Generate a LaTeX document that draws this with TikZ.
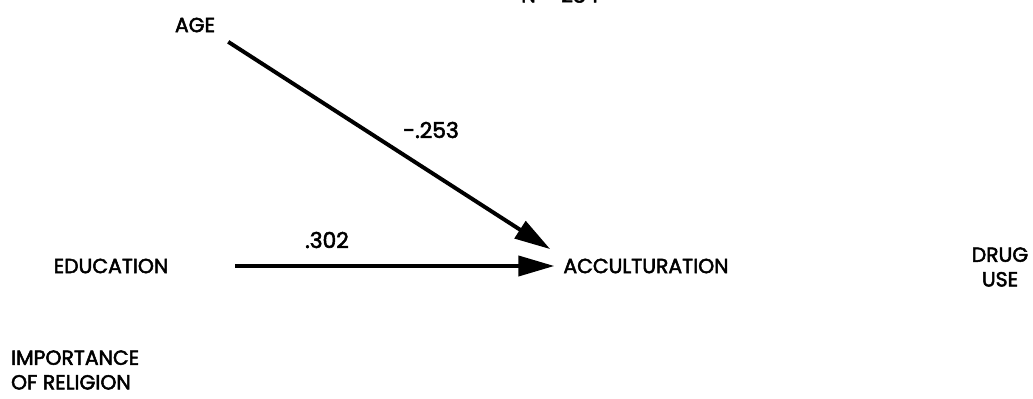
\documentclass[tikz,border=0pt]{standalone}
\usepackage{fontspec}
\newfontfamily\diagfont[FakeBold=2.5]{Poppins}
\usetikzlibrary{positioning, arrows.meta}

\begin{document}
\begin{tikzpicture}[x=0.025cm, y=-0.025cm, >={Triangle[length=0.9cm, width=0.5cm]},
    var/.style={font=\diagfont\fontsize{14.5}{17.5}\selectfont, inner sep=2pt, align=center},
    coef/.style={font=\diagfont\fontsize{15.5}{18}\selectfont, inner sep=1pt},
    path/.style={->, line width=2.8pt}]
\useasboundingbox (0,0) rectangle (1033,399);

\node[var] (n) at (560,-5) {N = 284};
\node[var] (age) at (195,25) {AGE};
\node[var] (acc) at (646,266) {ACCULTURATION};
\node[var] (edu) at (111,266) {EDUCATION};
\node[var] (drug) at (1000,267) {DRUG\\USE};
\node[var, align=left, anchor=west] (rel) at (8,370) {IMPORTANCE\\OF RELIGION};

\node[coef] (c1) at (431,130) {-.253};
\node[coef] (c2) at (327,240) {.302};

\draw[path, shorten <=0.3cm, shorten >=0.3cm] (age.south east) -- (acc.north west);
\draw[path, shorten <=1.6cm, shorten >=0.15cm] (edu.east) -- (acc.west);

\end{tikzpicture}
\end{document}
